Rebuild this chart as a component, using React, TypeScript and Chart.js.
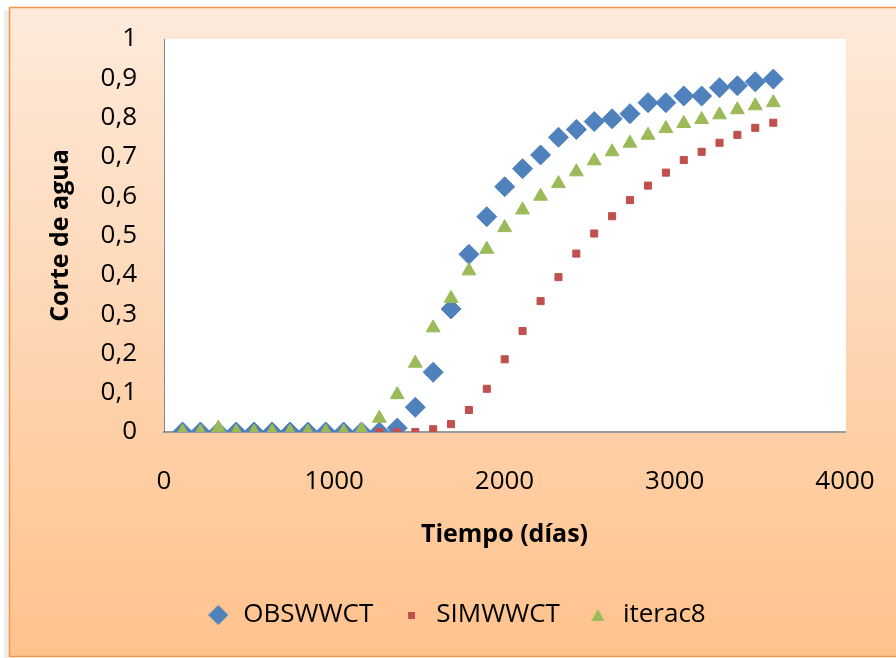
import React, { useEffect, useRef } from 'react';
import { Chart, registerables } from 'chart.js';

Chart.register(...registerables);

const days = [109, 214, 319, 424, 529, 635, 740, 845, 950, 1055, 1160, 1265, 1370, 1476, 1581, 1686, 1791, 1896, 2001, 2106, 2212, 2317, 2422, 2527, 2632, 2737, 2843, 2948, 3053, 3158, 3263, 3368, 3473, 3579];
const obswwct = [0, 0, 0, 0, 0, 0, 0, 0, 0, 0, 0, 0, 0.01, 0.063, 0.152, 0.313, 0.452, 0.548, 0.624, 0.67, 0.705, 0.75, 0.77, 0.79, 0.797, 0.81, 0.838, 0.838, 0.855, 0.855, 0.876, 0.881, 0.891, 0.898];
const simwwct = [0, 0, 0, 0, 0, 0, 0, 0, 0, 0, 0, 0, 0, 0, 0.007, 0.02, 0.056, 0.11, 0.185, 0.257, 0.333, 0.394, 0.454, 0.505, 0.549, 0.59, 0.627, 0.66, 0.692, 0.713, 0.736, 0.756, 0.774, 0.787];
const iterac8 = [0, 0, 0.01, 0, 0, 0, 0, 0, 0, 0, 0.005, 0.035, 0.095, 0.175, 0.265, 0.34, 0.41, 0.465, 0.52, 0.565, 0.6, 0.632, 0.662, 0.69, 0.713, 0.735, 0.755, 0.772, 0.785, 0.795, 0.807, 0.82, 0.83, 0.838];
const seriesNames = ['OBSWWCT', 'SIMWWCT', 'iterac8'];
const xTickLabels = ['0', '1000', '2000', '3000', '4000'];
const yTickLabels = ['0', '0,1', '0,2', '0,3', '0,4', '0,5', '0,6', '0,7', '0,8', '0,9', '1'];
const xTitle = 'Tiempo (días)';
const yTitle = 'Corte de agua';

const FONT = "'Open Sans', sans-serif";
const BLUE = '#4F81BD';
const RED = '#C0504D';
const GREEN = '#9BBB59';

function makeMarker(kind: string, color: string): HTMLCanvasElement {
  const c = document.createElement('canvas');
  let w = 20, h = 20;
  if (kind === 'square') { w = 7; h = 7; }
  if (kind === 'triangle') { w = 13; h = 12; }
  c.width = w; c.height = h;
  const ctx = c.getContext('2d')!;
  ctx.fillStyle = color;
  ctx.beginPath();
  if (kind === 'diamond') {
    ctx.moveTo(w / 2, 0); ctx.lineTo(w, h / 2); ctx.lineTo(w / 2, h); ctx.lineTo(0, h / 2);
  } else if (kind === 'square') {
    ctx.rect(0, 0, w, h);
  } else {
    ctx.moveTo(w / 2, 0); ctx.lineTo(w, h); ctx.lineTo(0, h);
  }
  ctx.closePath();
  ctx.fill();
  return c;
}

export default function App() {
  const ref = useRef<HTMLCanvasElement>(null);

  useEffect(() => {
    document.body.style.margin = '0';
    const canvas = ref.current;
    if (!canvas) return;

    const markers = [makeMarker('diamond', BLUE), makeMarker('square', RED), makeMarker('triangle', GREEN)];

    const bgPlugin = {
      id: 'bgFrame',
      beforeDraw(chart: any) {
        const ctx = chart.ctx;
        ctx.save();
        ctx.fillStyle = '#ffffff';
        ctx.fillRect(0, 0, chart.width, chart.height);
        ctx.fillStyle = 'rgba(0,0,0,0.07)';
        ctx.fillRect(4, 10, 6, 648);
        const g = ctx.createLinearGradient(0, 7, 0, 657);
        g.addColorStop(0, '#FDEADB');
        g.addColorStop(1, '#FFC28C');
        ctx.fillStyle = g;
        ctx.fillRect(9, 7, 894, 650);
        ctx.strokeStyle = '#F79646';
        ctx.lineWidth = 1.5;
        ctx.strokeRect(9.5, 7.5, 894, 649);
        const ca = chart.chartArea;
        ctx.fillStyle = '#ffffff';
        ctx.fillRect(ca.left, ca.top, ca.right - ca.left + 1, ca.bottom - ca.top);
        ctx.restore();
      },
    };

    const mk = (arr: number[]) => days.map((d, i) => ({ x: d, y: arr[i] }));

    const chart = new Chart(canvas, {
      type: 'scatter',
      data: {
        datasets: [
          {
            label: seriesNames[0], data: mk(obswwct), pointStyle: 'rectRot', pointRadius: 10,
            backgroundColor: BLUE, borderColor: BLUE, borderWidth: 1, order: 3,
          },
          {
            label: seriesNames[1], data: mk(simwwct), pointStyle: 'rect', pointRadius: 5,
            backgroundColor: RED, borderColor: RED, borderWidth: 1, order: 2,
          },
          {
            label: seriesNames[2], data: mk(iterac8), pointStyle: 'triangle', pointRadius: 8,
            backgroundColor: GREEN, borderColor: GREEN, borderWidth: 1, order: 1,
          },
        ] as any,
      },
      options: {
        responsive: false,
        animation: false,
        devicePixelRatio: 1,
        layout: { padding: { left: 10, top: 39, right: 8, bottom: 20 } },
        scales: {
          x: {
            type: 'linear', position: 'bottom', min: 0, max: 4000,
            grid: { display: false, drawTicks: false },
            border: { display: true, color: '#9A9A9A', width: 2 },
            ticks: {
              stepSize: 1000, padding: 34, color: '#000', maxRotation: 0, autoSkip: false,
              font: { family: FONT, size: 26 },
              callback: (_v: any, i: number) => xTickLabels[i],
            },
            title: {
              display: true, text: xTitle, color: '#000',
              font: { family: FONT, size: 25, weight: 'bold' },
              padding: { top: 0, bottom: 26 },
            },
            afterFit: (s: any) => { s.height = 144; },
          },
          y: {
            type: 'linear', position: 'left', min: 0, max: 1,
            grid: { display: false, drawTicks: true, tickLength: 4 },
            border: { display: true, color: '#868686', width: 1 },
            ticks: {
              stepSize: 0.1, padding: 23, color: '#000', autoSkip: false,
              font: { family: FONT, size: 26 },
              callback: (_v: any, i: number) => yTickLabels[i],
            },
            title: {
              display: true, text: yTitle, color: '#000',
              font: { family: FONT, size: 25, weight: 'bold' },
              padding: { top: 36, bottom: 0 },
            },
            afterFit: (s: any) => { s.width = 154; },
          },
          yR: {
            type: 'linear', position: 'right', display: true,
            grid: { display: false, drawTicks: false },
            ticks: { display: false },
            border: { display: false },
            afterFit: (s: any) => { s.width = 57; },
          },
        } as any,
        plugins: {
          legend: {
            position: 'bottom',
            labels: {
              usePointStyle: true, boxWidth: 24, boxHeight: 24, padding: 26, color: '#000',
              font: { family: FONT, size: 26 },
              generateLabels: (ch: any) => {
                const items = Chart.defaults.plugins.legend.labels.generateLabels(ch);
                items.sort((a: any, b: any) => a.datasetIndex - b.datasetIndex);
                return items.map((it: any) => ({ ...it, pointStyle: markers[it.datasetIndex], lineWidth: 0 }));
              },
            },
          },
          tooltip: { enabled: false },
        },
      } as any,
      plugins: [bgPlugin],
    });

    return () => chart.destroy();
  }, []);

  return (
    <div style={{ position: 'fixed', left: 0, top: 0, width: 896, height: 658, overflow: 'hidden' }}>
      <canvas ref={ref} width={910} height={658} style={{ width: 910, height: 658, display: 'block' }} />
    </div>
  );
}
